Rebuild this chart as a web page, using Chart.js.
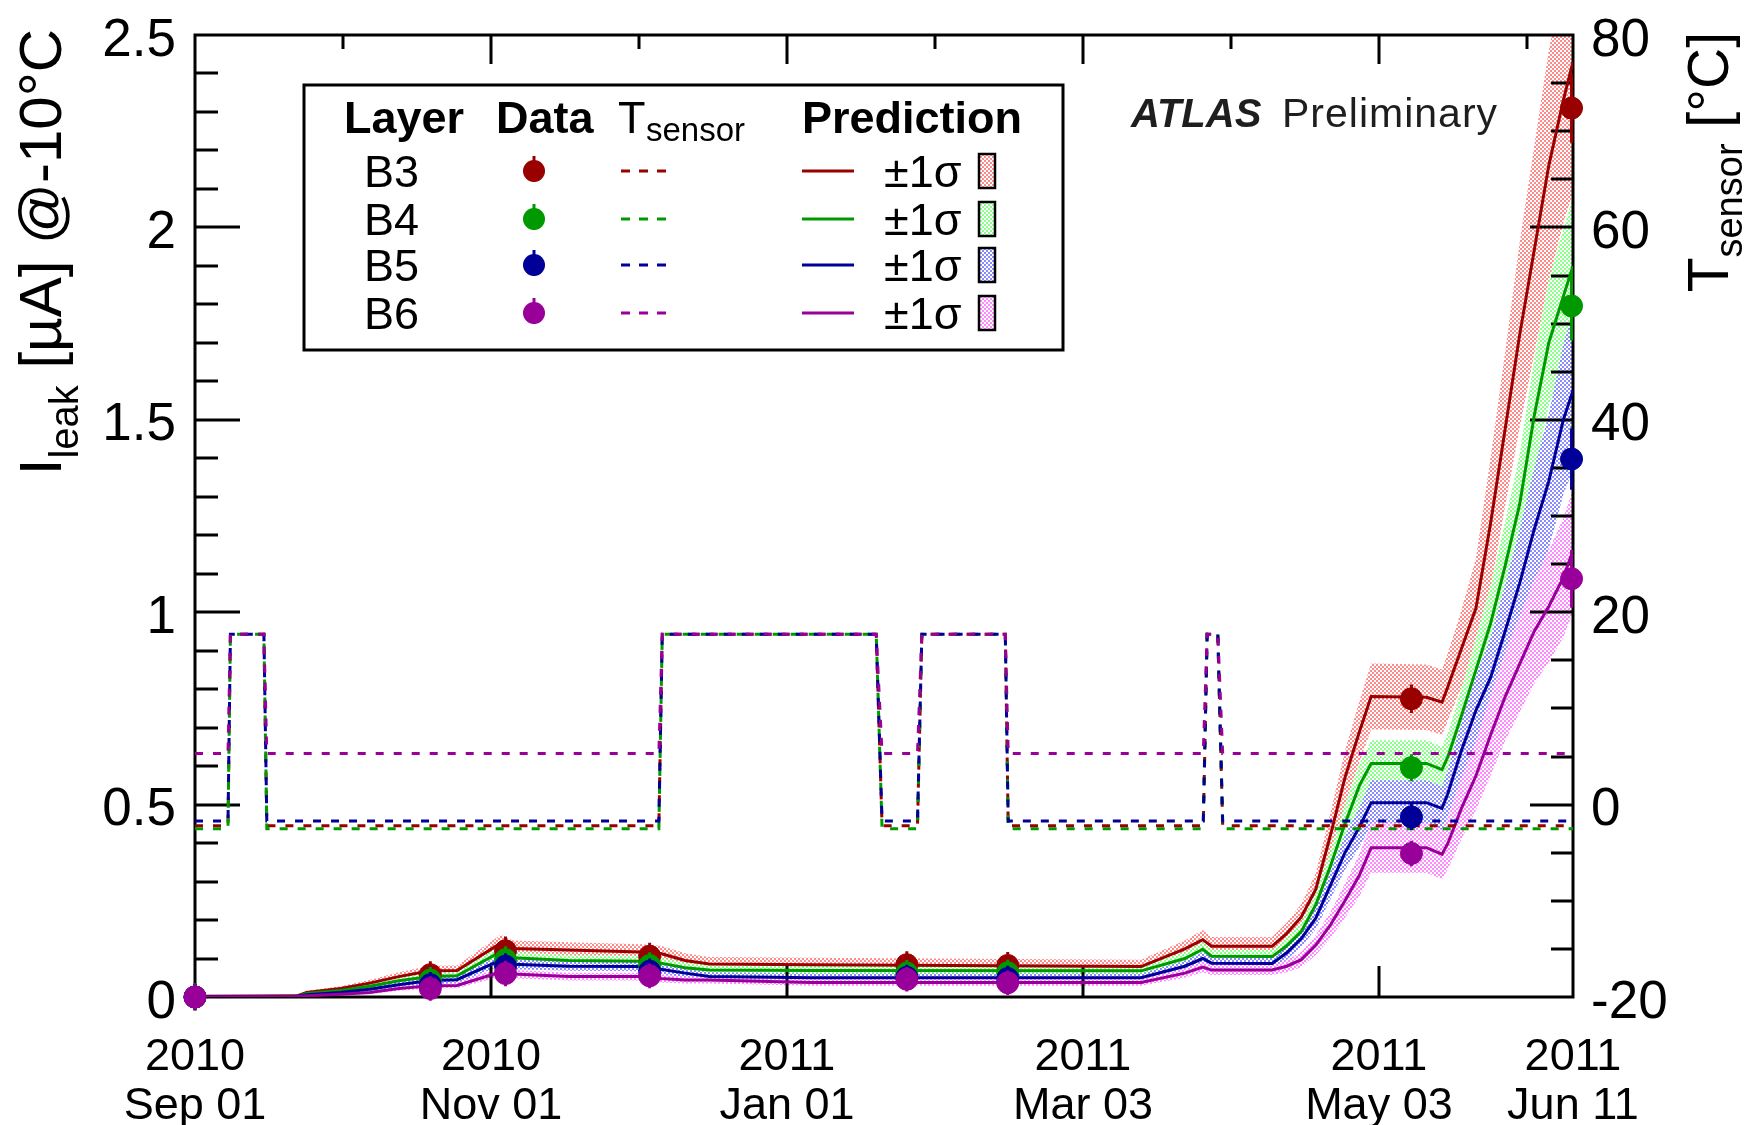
<!DOCTYPE html>
<html>
<head>
<meta charset="utf-8">
<title>Pixel barrel leakage current vs prediction</title>
<script src="https://cdn.jsdelivr.net/npm/chart.js@4.4.1/dist/chart.umd.min.js"></script>
<style>
  html, body { margin: 0; padding: 0; background: #ffffff; }
  #wrap { width: 1747px; height: 1125px; position: relative; }
  canvas { display: block; }
</style>
</head>
<body>
<div id="wrap"><canvas id="chart" width="1747" height="1125"></canvas></div>
<script>
// Time is counted in days since 2010-09-01.
const tickDays  = [0, 61, 122, 183, 244, 284];
const tickYears = ['2010', '2010', '2011', '2011', '2011', '2011'];
const tickDates = ['Sep 01', 'Nov 01', 'Jan 01', 'Mar 03', 'May 03', 'Jun 11'];

const leakTicks      = [0, 0.5, 1, 1.5, 2, 2.5];
const leakTickLabels = ['0', '0.5', '1', '1.5', '2', '2.5'];
const tempTicks      = [-20, 0, 20, 40, 60, 80];
const tempTickLabels = ['-20', '0', '20', '40', '60', '80'];

const layers = ['B3', 'B4', 'B5', 'B6'];

// Measured leakage current at -10°C [µA]
const dataDays = [0, 48.5, 64, 93.7, 146.7, 167.5, 250.7, 283.7];
const dataB3 = [0.000, 0.058, 0.120, 0.106, 0.084, 0.082, 0.775, 2.310];
const dataB4 = [0.000, 0.044, 0.097, 0.082, 0.062, 0.063, 0.596, 1.796];
const dataB5 = [0.000, 0.032, 0.080, 0.067, 0.051, 0.048, 0.468, 1.398];
const dataB6 = [0.000, 0.022, 0.061, 0.055, 0.046, 0.037, 0.373, 1.087];
const errB3  = [0.035, 0.035, 0.037, 0.035, 0.035, 0.035, 0.037, 0.090];
const errB4  = [0.035, 0.034, 0.035, 0.034, 0.034, 0.034, 0.035, 0.090];
const errB5  = [0.034, 0.033, 0.034, 0.033, 0.033, 0.033, 0.034, 0.080];
const errB6  = [0.033, 0.032, 0.033, 0.032, 0.032, 0.032, 0.033, 0.075];

// Predicted leakage current [µA] and its 1σ half-width
const predDays = [0, 21, 23, 30, 36, 42, 48.5, 54, 63, 65.5,
                  77, 92, 96, 101, 106, 127, 195, 204, 207.7, 209.5,
                  222, 225, 228, 231, 234, 237, 240, 242.4, 253.8, 257,
                  258.2, 261, 264, 267, 270, 273, 276, 279, 282, 284];
const predB3 = [0.002, 0.003, 0.012, 0.022, 0.036, 0.053, 0.068, 0.069, 0.140, 0.126,
                0.122, 0.117, 0.113, 0.095, 0.086, 0.084, 0.079, 0.125, 0.149, 0.132,
                0.132, 0.165, 0.208, 0.280, 0.420, 0.570, 0.690, 0.781, 0.779, 0.766,
                0.806, 0.905, 1.010, 1.230, 1.475, 1.720, 1.940, 2.160, 2.330, 2.430];
const predB4 = [0.001, 0.002, 0.009, 0.017, 0.028, 0.042, 0.053, 0.055, 0.118, 0.102,
                0.095, 0.093, 0.088, 0.076, 0.070, 0.069, 0.068, 0.100, 0.124, 0.106,
                0.105, 0.133, 0.170, 0.240, 0.340, 0.450, 0.550, 0.607, 0.607, 0.591,
                0.624, 0.730, 0.850, 0.970, 1.120, 1.280, 1.510, 1.700, 1.820, 1.900];
const predB5 = [0.001, 0.002, 0.006, 0.012, 0.020, 0.032, 0.043, 0.045, 0.096, 0.085,
                0.080, 0.079, 0.072, 0.062, 0.053, 0.050, 0.050, 0.080, 0.100, 0.088,
                0.087, 0.115, 0.152, 0.205, 0.290, 0.375, 0.442, 0.505, 0.505, 0.490,
                0.529, 0.640, 0.745, 0.830, 0.950, 1.075, 1.215, 1.340, 1.500, 1.576];
const predB6 = [0.000, 0.001, 0.003, 0.007, 0.012, 0.022, 0.029, 0.030, 0.065, 0.060,
                0.053, 0.053, 0.048, 0.044, 0.044, 0.038, 0.038, 0.062, 0.078, 0.070,
                0.070, 0.080, 0.097, 0.135, 0.187, 0.250, 0.317, 0.388, 0.388, 0.371,
                0.399, 0.490, 0.575, 0.680, 0.780, 0.865, 0.950, 1.015, 1.090, 1.160];
const sigB3 = [0.001, 0.002, 0.004, 0.006, 0.008, 0.011, 0.013, 0.013, 0.022, 0.021,
               0.020, 0.020, 0.020, 0.019, 0.018, 0.018, 0.018, 0.022, 0.025, 0.024,
               0.024, 0.028, 0.034, 0.042, 0.058, 0.070, 0.080, 0.086, 0.085, 0.085,
               0.088, 0.100, 0.130, 0.170, 0.200, 0.240, 0.270, 0.300, 0.320, 0.340];
const sigB4 = [0.001, 0.002, 0.003, 0.005, 0.007, 0.009, 0.010, 0.010, 0.016, 0.015,
               0.014, 0.014, 0.014, 0.013, 0.013, 0.013, 0.013, 0.016, 0.018, 0.017,
               0.017, 0.020, 0.024, 0.030, 0.040, 0.050, 0.057, 0.060, 0.060, 0.060,
               0.062, 0.072, 0.085, 0.100, 0.115, 0.130, 0.150, 0.165, 0.175, 0.180];
const sigB5 = [0.001, 0.002, 0.003, 0.004, 0.006, 0.008, 0.009, 0.009, 0.014, 0.013,
               0.012, 0.012, 0.012, 0.011, 0.011, 0.011, 0.011, 0.014, 0.016, 0.015,
               0.015, 0.018, 0.022, 0.028, 0.036, 0.045, 0.052, 0.058, 0.058, 0.058,
               0.060, 0.075, 0.090, 0.105, 0.120, 0.140, 0.160, 0.175, 0.195, 0.205];
const sigB6 = [0.001, 0.001, 0.002, 0.003, 0.004, 0.006, 0.007, 0.007, 0.012, 0.011,
               0.010, 0.010, 0.010, 0.009, 0.009, 0.009, 0.009, 0.012, 0.014, 0.013,
               0.013, 0.016, 0.020, 0.026, 0.034, 0.044, 0.055, 0.065, 0.065, 0.065,
               0.067, 0.080, 0.090, 0.105, 0.115, 0.125, 0.135, 0.145, 0.155, 0.160];

// Sensor temperature [°C]
const tempDays = [0, 6.8, 7.3, 14.2, 14.8, 95.6, 96.3, 140.4, 141.6,
                  148.9, 149.8, 167.0, 167.6, 207.8, 208.6, 210.8, 211.8, 284];
const tempB3 = [-2.2, -2.2, 17.7, 17.7, -2.2, -2.2, 17.7, 17.7, -2.2,
                -2.2, 17.7, 17.7, -2.2, -2.2, 17.7, 17.7, -2.2, -2.2];
const tempB4 = [-2.5, -2.5, 17.7, 17.7, -2.5, -2.5, 17.7, 17.7, -2.5,
                -2.5, 17.7, 17.7, -2.5, -2.5, 17.7, 17.7, -2.5, -2.5];
const tempB5 = [-1.7, -1.7, 17.7, 17.7, -1.7, -1.7, 17.7, 17.7, -1.7,
                -1.7, 17.7, 17.7, -1.7, -1.7, 17.7, 17.7, -1.7, -1.7];
const tempB6 = [5.3, 5.3, 17.7, 17.7, 5.3, 5.3, 17.7, 17.7, 5.3,
                5.3, 17.7, 17.7, 5.3, 5.3, 17.7, 17.7, 5.3, 5.3];

// ---------------------------------------------------------------------------
const FONT = '"Liberation Sans", Arial, Helvetica, sans-serif';
const lineColors = ['#990000', '#009900', '#000099', '#990099'];
const bandColors = ['#ff8a8a', '#8aff8a', '#8a8aff', '#ff8aff'];

const dataSets = [dataB3, dataB4, dataB5, dataB6];
const errSets  = [errB3, errB4, errB5, errB6];
const predSets = [predB3, predB4, predB5, predB6];
const sigSets  = [sigB3, sigB4, sigB5, sigB6];
const tempSets = [tempB3, tempB4, tempB5, tempB6];

function checker(color) {
  const c = document.createElement('canvas');
  c.width = 4; c.height = 4;
  const g = c.getContext('2d');
  g.fillStyle = color;
  g.fillRect(0, 0, 2, 2);
  g.fillRect(2, 2, 2, 2);
  return g.createPattern(c, 'repeat');
}
const bandPatterns = bandColors.map(checker);

const datasets = [];
layers.forEach((name, k) => {
  // ±1σ band: lower edge, then upper edge filled down to it
  datasets.push({
    label: name + ' lower', kind: 'band',
    data: predDays.map((d, i) => ({ x: d, y: predSets[k][i] - sigSets[k][i] })),
    borderColor: 'rgba(0,0,0,0)', borderWidth: 0, pointRadius: 0, fill: false,
    order: 60 - k
  });
  datasets.push({
    label: name + ' upper', kind: 'band',
    data: predDays.map((d, i) => ({ x: d, y: predSets[k][i] + sigSets[k][i] })),
    borderColor: 'rgba(0,0,0,0)', borderWidth: 0, pointRadius: 0,
    fill: '-1', backgroundColor: bandPatterns[k],
    order: 60 - k
  });
});
layers.forEach((name, k) => {
  datasets.push({
    label: name + ' prediction', kind: 'pred',
    data: predDays.map((d, i) => ({ x: d, y: predSets[k][i] })),
    borderColor: lineColors[k], borderWidth: 3, pointRadius: 0, fill: false,
    order: 40 - k
  });
});
layers.forEach((name, k) => {
  datasets.push({
    label: name + ' T sensor', kind: 'temp', yAxisID: 'y2',
    data: tempDays.map((d, i) => ({ x: d, y: tempSets[k][i] })),
    borderColor: lineColors[k], borderWidth: 3, borderDash: [8, 10],
    pointRadius: 0, fill: false,
    order: 30 - k
  });
});
layers.forEach((name, k) => {
  datasets.push({
    label: name + ' data', kind: 'data', layer: k,
    data: dataDays.map((d, i) => ({ x: d, y: dataSets[k][i] })),
    showLine: false, pointRadius: 11, pointStyle: 'circle',
    pointBackgroundColor: lineColors[k], pointBorderColor: lineColors[k],
    pointBorderWidth: 1, clip: false,
    order: 20 - k
  });
});

// Frame and ROOT-style inward tick marks
const framePlugin = {
  id: 'frame',
  beforeDatasetsDraw(chart) {
    const { ctx, chartArea: a, scales } = chart;
    ctx.save();
    ctx.strokeStyle = '#000';
    ctx.lineWidth = 3;
    ctx.lineCap = 'butt';
    ctx.beginPath();
    // left axis: major every 0.5, minor every 0.1
    for (let n = 1; n < 25; n++) {
      const y = Math.round(scales.y.getPixelForValue(n / 10));
      const len = n % 5 === 0 ? 45 : 23;
      ctx.moveTo(a.left, y); ctx.lineTo(a.left + len, y);
    }
    // right axis: major every 20, minor every 5
    for (let t = -15; t < 80; t += 5) {
      const y = Math.round(scales.y2.getPixelForValue(t));
      const len = t % 20 === 0 ? 43 : 22;
      ctx.moveTo(a.right, y); ctx.lineTo(a.right - len, y);
    }
    // bottom axis: major ticks only
    for (let i = 1; i < tickDays.length - 1; i++) {
      const x = Math.round(scales.x.getPixelForValue(tickDays[i]));
      ctx.moveTo(x, a.bottom); ctx.lineTo(x, a.bottom - 31);
    }
    // top axis: major and half-way minor ticks
    for (let i = 0; i < tickDays.length - 1; i++) {
      const d0 = tickDays[i];
      const xm = Math.round(scales.x.getPixelForValue(d0 + 30.5));
      if (i > 0) {
        const x = Math.round(scales.x.getPixelForValue(d0));
        ctx.moveTo(x, a.top); ctx.lineTo(x, a.top + 29);
      }
      if (d0 + 30.5 < scales.x.max) { ctx.moveTo(xm, a.top); ctx.lineTo(xm, a.top + 14); }
    }
    ctx.stroke();
    ctx.strokeRect(a.left, a.top, a.right - a.left, a.bottom - a.top);
    ctx.restore();
  },
  // vertical error bars drawn just before each marker set
  beforeDatasetDraw(chart, args) {
    const ds = chart.data.datasets[args.index];
    if (ds.kind !== 'data') return;
    const k = ds.layer;
    const { ctx, scales } = chart;
    ctx.save();
    ctx.strokeStyle = lineColors[k];
    ctx.lineWidth = 3;
    ctx.beginPath();
    dataDays.forEach((d, i) => {
      const x = scales.x.getPixelForValue(d);
      ctx.moveTo(x, scales.y.getPixelForValue(dataSets[k][i] - errSets[k][i]));
      ctx.lineTo(x, scales.y.getPixelForValue(dataSets[k][i] + errSets[k][i]));
    });
    ctx.stroke();
    ctx.restore();
  }
};

function drawRotatedTitle(ctx, baseX, topY, parts) {
  // parts: [text, size, baselineShift]
  ctx.save();
  let total = 0;
  parts.forEach(p => { ctx.font = p[1] + 'px ' + FONT; total += ctx.measureText(p[0]).width; });
  ctx.translate(baseX, topY + total);
  ctx.rotate(-Math.PI / 2);
  ctx.fillStyle = '#000';
  ctx.textBaseline = 'alphabetic';
  ctx.textAlign = 'left';
  let x = 0;
  parts.forEach(p => {
    ctx.font = p[1] + 'px ' + FONT;
    ctx.fillText(p[0], x, p[2]);
    x += ctx.measureText(p[0]).width;
  });
  ctx.restore();
}

const decorPlugin = {
  id: 'decor',
  afterDraw(chart) {
    const ctx = chart.ctx;
    // axis titles
    drawRotatedTitle(ctx, 61, 29, [['I', 60, 0], ['leak', 40, 17], [' [µA] @-10°C', 60, 0]]);
    drawRotatedTitle(ctx, 1728, 32, [['T', 57, 0], ['sensor', 38, 14], [' [°C]', 57, 0]]);

    // experiment label
    ctx.save();
    ctx.filter = 'blur(0.7px)';
    ctx.fillStyle = '#1e1e1e';
    ctx.textBaseline = 'alphabetic';
    ctx.font = 'italic bold 40px ' + FONT;
    ctx.fillText('ATLAS', 1131, 127);
    ctx.font = '41px ' + FONT;
    ctx.letterSpacing = '1px';
    ctx.fillText('Preliminary', 1282, 127);
    ctx.restore();

    // legend table
    ctx.save();
    ctx.fillStyle = '#fff';
    ctx.fillRect(304, 85, 759, 265);
    ctx.strokeStyle = '#000';
    ctx.lineWidth = 3;
    ctx.strokeRect(304, 85, 759, 265);
    ctx.fillStyle = '#000';
    ctx.textBaseline = 'alphabetic';
    ctx.textAlign = 'left';
    ctx.font = 'bold 45px ' + FONT;
    ctx.fillText('Layer', 344, 133);
    ctx.fillText('Data', 496, 133);
    ctx.fillText('Prediction', 802, 133);
    ctx.font = '45px ' + FONT;
    ctx.fillText('T', 618, 133);
    ctx.font = '33px ' + FONT;
    ctx.fillText('sensor', 646, 141);

    const rowY = [171, 219, 265, 313];
    layers.forEach((name, k) => {
      const cy = rowY[k];
      ctx.fillStyle = '#000';
      ctx.font = '45px ' + FONT;
      ctx.fillText(name, 364, cy + 16);
      ctx.fillText('±1σ', 884, cy + 16);
      // data marker with error stub
      ctx.strokeStyle = lineColors[k];
      ctx.lineWidth = 3;
      ctx.beginPath();
      ctx.moveTo(534, cy - 15); ctx.lineTo(534, cy + 11);
      ctx.stroke();
      ctx.fillStyle = lineColors[k];
      ctx.beginPath();
      ctx.arc(534, cy, 11, 0, Math.PI * 2);
      ctx.fill();
      // temperature dashes
      ctx.setLineDash([9, 9]);
      ctx.beginPath();
      ctx.moveTo(621, cy); ctx.lineTo(666, cy);
      ctx.stroke();
      ctx.setLineDash([]);
      // prediction line
      ctx.beginPath();
      ctx.moveTo(802, cy); ctx.lineTo(854, cy);
      ctx.stroke();
      // band swatch
      ctx.fillStyle = bandPatterns[k];
      ctx.fillRect(979, cy - 17, 16, 34);
      ctx.strokeStyle = '#000';
      ctx.lineWidth = 2.5;
      ctx.strokeRect(979, cy - 17, 16, 34);
    });
    ctx.restore();
  }
};

// Keep the plotting frame fixed regardless of label overhang.
function noOverhang(s) {
  s.paddingTop = 0; s.paddingBottom = 0; s.paddingLeft = 0; s.paddingRight = 0;
}

new Chart(document.getElementById('chart'), {
  type: 'line',
  data: { datasets },
  options: {
    responsive: false,
    animation: false,
    devicePixelRatio: 1,
    events: [],
    layout: { padding: { top: 35, left: 0, right: 0, bottom: 0 } },
    plugins: {
      legend: { display: false },
      tooltip: { enabled: false },
      filler: { drawTime: 'beforeDatasetsDraw' }
    },
    scales: {
      x: {
        type: 'linear', position: 'bottom', min: 0, max: 284,
        afterBuildTicks: s => { s.ticks = tickDays.map(v => ({ value: v })); },
        afterFit: s => { s.height = 128; noOverhang(s); },
        grid: { display: false, drawTicks: false },
        border: { display: false },
        ticks: {
          autoSkip: false, maxRotation: 0, minRotation: 0, padding: 37,
          color: '#000',
          font: { family: FONT, size: 45, lineHeight: 1.07 },
          callback: (v, i) => [tickYears[i], tickDates[i]]
        }
      },
      y: {
        type: 'linear', position: 'left', min: 0, max: 2.5,
        afterBuildTicks: s => { s.ticks = leakTicks.map(v => ({ value: v })); },
        afterFit: s => { s.width = 195; noOverhang(s); },
        grid: { display: false, drawTicks: false },
        border: { display: false },
        ticks: {
          padding: 19, color: '#000', labelOffset: 6,
          font: { family: FONT, size: 53, lineHeight: 1.0 },
          callback: (v, i) => leakTickLabels[i]
        }
      },
      y2: {
        type: 'linear', position: 'right', min: -20, max: 80,
        afterBuildTicks: s => { s.ticks = tempTicks.map(v => ({ value: v })); },
        afterFit: s => { s.width = 174; noOverhang(s); },
        grid: { display: false, drawTicks: false },
        border: { display: false },
        ticks: {
          padding: 18, color: '#000', labelOffset: 6,
          font: { family: FONT, size: 53, lineHeight: 1.0 },
          callback: (v, i) => tempTickLabels[i]
        }
      }
    }
  },
  plugins: [framePlugin, decorPlugin]
});
</script>
</body>
</html>
